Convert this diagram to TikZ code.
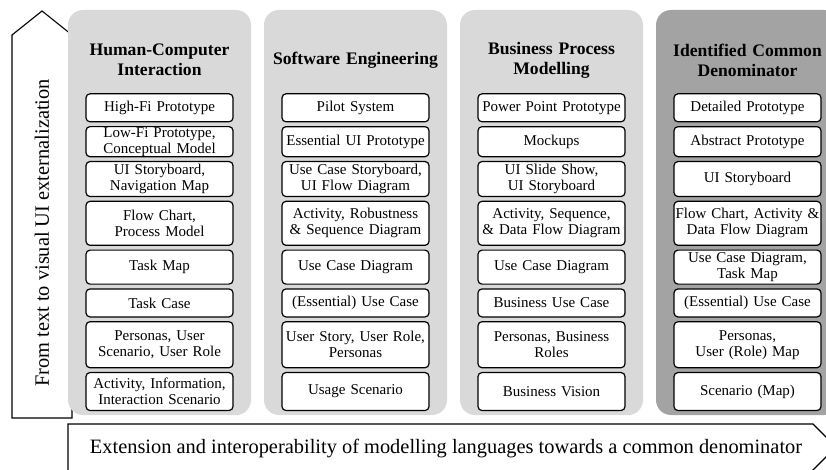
\documentclass[tikz,border=0pt]{standalone}
\usepackage{fontspec}
\setmainfont{Liberation Serif}
\usepackage{tikz}
\usetikzlibrary{matrix}
\colorlet{domain}{black!15}
\colorlet{common}{black!36}
\newcommand{\boxfont}{\fontsize{15}{16}\selectfont}
\newcommand{\headfont}{\fontsize{17.6}{20}\selectfont\bfseries}
\newcommand{\bigfont}{\fontsize{20.4}{24}\selectfont}

\begin{document}
\begin{tikzpicture}[x=1pt,y=-1pt,
	column/.style={rounded corners=15pt, minimum width=183pt, minimum height=405pt,%
		inner sep=0pt, outer sep=0pt},
	header/.style={text width=180pt, align=center, font=\headfont},
	entry/.style={draw, line width=1.2pt, rounded corners=4pt, fill=white,%
		minimum width=147pt, text width=146pt, inner sep=0.5pt, outer sep=0pt,%
		align=center, font=\boxfont},
	arrowbox/.style={draw, line width=1.1pt, fill=white}
	]
	\useasboundingbox (0,0) rectangle (826,470);

	% the two big arrows
	\draw[arrowbox] (12,418) -- (12,35) -- (42,11) -- (72,35) -- (72,418) -- cycle;
	\node[rotate=90, font=\bigfont] (vertical) at (42,233) {From text to visual UI externalization};
	\draw[arrowbox] (68,472) -- (68,424) -- (813,424) -- (836,447) -- (811,472) -- cycle;
	\node[font=\bigfont] (horizontal) at (446,449) {Extension and interoperability of modelling languages towards a common denominator};

	% backgrounds
	\node[column, fill=domain] (hcicol) at (159.5,212.5) {};
	\node[column, fill=domain] (secol) at (355.5,212.5) {};
	\node[column, fill=domain] (bpmcol) at (551.5,212.5) {};
	\node[column, fill=common] (commoncol) at (747.5,212.5) {};

	\matrix (models) [matrix of nodes, nodes={entry, anchor=center},%
	column sep=47.8pt,%
	row sep=3.6pt,%
	row 1/.style={nodes={minimum height=28pt}},%
	row 2/.style={nodes={minimum height=30pt}},%
	row 3/.style={nodes={minimum height=35pt}},%
	row 4/.style={nodes={minimum height=44pt}},%
	row 5/.style={nodes={minimum height=34pt}},%
	row 6/.style={nodes={minimum height=28pt}},%
	row 7/.style={nodes={minimum height=46pt}},%
	row 8/.style={nodes={minimum height=38pt}},%
	inner sep=0pt, anchor=north] at (453.5,93)
	{
		High-Fi Prototype & Pilot System & Power Point Prototype & Detailed Prototype \\
		Low-Fi Prototype,\par Conceptual Model & Essential UI Prototype & Mockups & Abstract Prototype \\
		UI Storyboard,\par Navigation Map & Use Case Storyboard,\par UI Flow Diagram & UI Slide Show,\par UI Storyboard & UI Storyboard \\
		Flow Chart,\par Process Model & Activity, Robustness\par \& Sequence Diagram & Activity, Sequence,\par \& Data Flow Diagram & Flow Chart, Activity \&\par Data Flow Diagram \\
		Task Map & Use Case Diagram & Use Case Diagram & Use Case Diagram,\par Task Map \\
		Task Case & (Essential) Use Case & Business Use Case & (Essential) Use Case \\
		Personas, User\par Scenario, User Role & User Story, User Role,\par Personas & Personas, Business\par Roles & Personas,\par User (Role) Map \\
		Activity, Information,\par Interaction Scenario & Usage Scenario & Business Vision & Scenario (Map) \\
	};

	\node[header] (hcihead) at (models-1-1 |- 0,60) {Human-Computer\par Interaction};
	\node[header] (sehead) at (models-1-2 |- 0,60) {Software Engineering};
	\node[header] (bpmhead) at (models-1-3 |- 0,60) {Business Process\par Modelling};
	\node[header] (commonhead) at (models-1-4 |- 0,60) {Identified Common\par Denominator};
\end{tikzpicture}
\end{document}
